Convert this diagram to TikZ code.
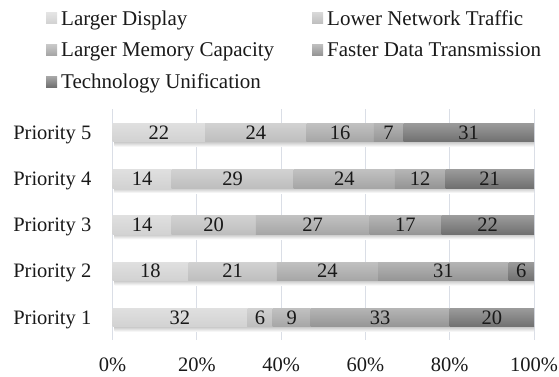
\documentclass[tikz,border=0pt]{standalone}
\usepackage{xcolor}
\usepackage{fontspec}
\setmainfont{Liberation Serif}
\usepackage{tikz}
\usetikzlibrary{positioning}
\definecolor{seg1}{HTML}{D2D2D2}
\definecolor{seg2}{HTML}{BEBEBE}
\definecolor{seg3}{HTML}{A6A6A6}
\definecolor{seg4}{HTML}{959595}
\definecolor{seg5}{HTML}{707070}
\definecolor{gridc}{HTML}{DADEE6}

\begin{document}
\begin{tikzpicture}[
			x=1pt,y=-1pt,
			every node/.style={font=\fontsize{20.5}{24}\selectfont,inner sep=0pt,text=black!90},
			declare function = {px(\v) = 112.5 + 4.215*\v;},
			gridline/.style={draw=gridc,line width=0.9pt},
			legtext/.style={anchor=base west,font=\fontsize{21}{24}\selectfont}
			]
			\def\barh{9.25}
			\useasboundingbox (0,0) rectangle (559,376);

			\foreach \t in {0,20,...,100} {
				\draw[gridline] ({px(\t)},109) -- ({px(\t)},340);
				\node[anchor=base] (tick\t) at ({px(\t)},371.5) {\t\%};
			}

			\foreach \p/\yc/\vals in {5/132.5/{22,24,16,7,31},4/178.75/{14,29,24,12,21},3/225/{14,20,27,17,22},2/271.25/{18,21,24,31,6},1/317.5/{32,6,9,33,20}} {
				\node[anchor=base east] (prio\p) at (91.5,\yc+6.6) {Priority \p};
				\shade[top color=black!22,bottom color=white] ({px(0)+2},\yc+\barh) rectangle ({px(100)},\yc+\barh+5);
				\xdef\acc{0}
				\foreach \v [count=\k] in \vals {
					\pgfmathsetmacro\xa{px(\acc)}
					\pgfmathsetmacro\xb{px(\acc+\v)}
					\shade[top color=seg\k!70!white,bottom color=seg\k] (\xa,\yc-\barh) rectangle (\xb,\yc+\barh);
					\node[anchor=base] (v\p\k) at ({(\xa+\xb)/2},\yc+6.6) {\v};
					\pgfmathsetmacro\nacc{\acc+\v}
					\xdef\acc{\nacc}
				}
			}

			\foreach \lx/\ly/\k/\txt in {46/18/1/Larger Display,312/18/2/Lower Network Traffic,46/49.5/3/Larger Memory Capacity,312/49.5/4/Faster Data Transmission,46/81.5/5/Technology Unification} {
				\shade[top color=seg\k!60!white,bottom color=seg\k] (\lx,\ly-5.5) rectangle (\lx+11,\ly+5.5);
				\node[legtext] (leg\k) at (\lx+15,\ly+7) {\txt};
			}

			\end{tikzpicture}
\end{document}
